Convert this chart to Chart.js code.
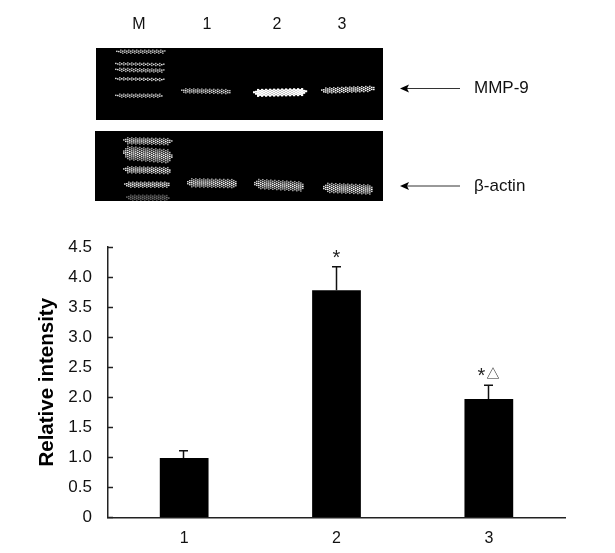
<!DOCTYPE html>
<html>
<head>
<meta charset="utf-8">
<style>
  html, body { margin: 0; background: #fff; }
  canvas { display: block; }
</style>
<script src="https://cdn.jsdelivr.net/npm/chart.js@4/dist/chart.umd.js"></script>
</head>
<body>
<canvas id="chart" width="615" height="553"></canvas>
<script>
const groups = ["1", "2", "3"]
const intensity = [0.99, 3.78, 1.97]
const errorUp = [0.12, 0.39, 0.23]
const marks = ["", "*", "*△"]
const yTickLabels = ["0", "0.5", "1.0", "1.5", "2.0", "2.5", "3.0", "3.5", "4.0", "4.5"]

const laneLabels = ["M", "1", "2", "3"]
const laneLabelX = [139, 207, 277, 342]

// gel picture: panel = x, y, w, h / band = x0, x1, y at left, y at right, thickness, brightness
const gelPanels = [[96, 48, 287, 72], [95, 131, 288, 70]]
const gelBands = [
  [116, 165, 51, 51, 3, 0.7], [115, 164, 63, 64, 2, 0.7], [115, 164, 69, 70, 3, 0.7],
  [115, 164, 78, 79, 2, 0.75], [115, 162, 95, 95, 3, 0.7],
  [181, 230, 90, 91, 4, 0.75], [253, 305, 92, 91, 6, 1.3], [321, 374, 90, 88, 5, 1],
  [123, 171, 140, 141, 6, 0.8], [123, 171, 152, 156, 13, 0.85], [123, 170, 169, 170, 6, 0.85],
  [124, 169, 184, 184, 5, 0.85], [126, 168, 197, 197, 5, 0.4],
  [187, 236, 182, 183, 8, 0.85], [254, 303, 183, 186, 9, 0.85], [323, 372, 187, 189, 9, 0.9]
]
const gelArrows = [[460, 400, 88, "MMP-9"], [460, 400, 185.5, "β-actin"]]

const FONT = '"Liberation Sans", Arial, sans-serif'

function drawBand(ctx, [x0, x1, yL, yR, thick, glow]) {
  let col = 0
  for (let x = x0; x <= x1; x += 2, col++) {
    const t = (x - x0) / (x1 - x0)
    const taper = Math.min(1, Math.sin(Math.PI * t) * 4 + 0.25)
    const half = (thick / 2) * taper
    const yc = yL + (yR - yL) * t
    for (let y = yc - half + (col % 2); y <= yc + half; y += 2) {
      const edge = 1 - Math.abs(y - yc) / (half + 1.5)
      const grey = Math.round(255 * Math.min(1, glow * (0.55 + edge * 0.7)))
      ctx.fillStyle = `rgb(${grey},${grey},${grey})`
      // the brightest lane burns out to solid white
      const size = glow > 1 ? 2.2 : 1.6
      ctx.fillRect(x, y, size, size - 0.2)
    }
  }
}

const gelPlugin = {
  id: "gel",
  afterDraw(chart) {
    const ctx = chart.ctx
    ctx.save()
    ctx.fillStyle = "#000"
    gelPanels.forEach(([x, y, w, h]) => ctx.fillRect(x, y, w, h))
    gelBands.forEach((b) => drawBand(ctx, b))

    ctx.fillStyle = "#111"
    ctx.font = `16px ${FONT}`
    ctx.textAlign = "center"
    ctx.textBaseline = "middle"
    laneLabels.forEach((l, i) => ctx.fillText(l, laneLabelX[i], 25))

    ctx.textAlign = "left"
    ctx.font = `17px ${FONT}`
    gelArrows.forEach(([x1, x2, y, label]) => {
      ctx.strokeStyle = "#333"
      ctx.lineWidth = 1
      ctx.beginPath()
      ctx.moveTo(x1, y + 0.5)
      ctx.lineTo(x2 + 6, y + 0.5)
      ctx.stroke()
      ctx.fillStyle = "#000"
      ctx.beginPath()
      ctx.moveTo(x2, y + 0.5)
      ctx.lineTo(x2 + 9, y - 3.5)
      ctx.lineTo(x2 + 7, y + 0.5)
      ctx.lineTo(x2 + 9, y + 4.5)
      ctx.closePath()
      ctx.fill()
      ctx.fillStyle = "#111"
      ctx.fillText(label, 474, y + 0.5)
    })
    ctx.restore()
  }
}

const errorBarPlugin = {
  id: "errorBars",
  afterDatasetsDraw(chart) {
    const { ctx, scales: { x, y } } = chart
    ctx.save()
    ctx.strokeStyle = "#111"
    ctx.lineWidth = 1.5
    intensity.forEach((v, i) => {
      const px = Math.round(x.getPixelForValue(i)) - 0.5
      const top = y.getPixelForValue(v + errorUp[i])
      ctx.beginPath()
      ctx.moveTo(px, y.getPixelForValue(v))
      ctx.lineTo(px, top)
      ctx.moveTo(px - 4.5, top)
      ctx.lineTo(px + 4.5, top)
      ctx.stroke()

      if (!marks[i]) return
      ctx.fillStyle = "#222"
      ctx.textBaseline = "middle"
      ctx.textAlign = "center"
      const [star, tri] = [...marks[i]]
      ctx.font = `20px ${FONT}`
      ctx.fillText(star, tri ? px - 7 : px, tri ? top - 9 : top - 8)
      if (tri) {
        ctx.font = '13px "Noto Sans CJK SC"'
        ctx.fillText(tri, px + 4.5, top - 12)
      }
    })
    ctx.restore()
  }
}

new Chart(document.getElementById("chart"), {
  type: "bar",
  data: {
    labels: groups,
    datasets: [{ data: intensity, backgroundColor: "#000", barPercentage: 1, categoryPercentage: 0.32 }]
  },
  options: {
    responsive: false,
    animation: false,
    layout: { padding: { left: 35, right: 50, top: 247, bottom: 0 } },
    plugins: { legend: { display: false }, tooltip: { enabled: false } },
    scales: {
      x: {
        grid: { display: false },
        border: { color: "#222", width: 1.5 },
        ticks: { color: "#111", font: { family: FONT, size: 16 }, padding: 3 },
        afterFit(scale) { scale.height = 35.5 }
      },
      y: {
        min: 0,
        max: 4.5,
        grid: { drawOnChartArea: false, tickLength: -5, tickColor: "#222", tickWidth: 1.5 },
        border: { color: "#222", width: 1.5 },
        ticks: {
          stepSize: 0.5,
          color: "#111",
          font: { family: FONT, size: 17 },
          padding: 21,
          callback: (value, index) => yTickLabels[index]
        },
        title: {
          display: true,
          text: "Relative intensity",
          color: "#000",
          font: { family: FONT, size: 20.5, weight: "bold" },
          padding: 0
        },
        afterFit(scale) { scale.width = 73 }
      }
    }
  },
  plugins: [gelPlugin, errorBarPlugin]
})
</script>
</body>
</html>
